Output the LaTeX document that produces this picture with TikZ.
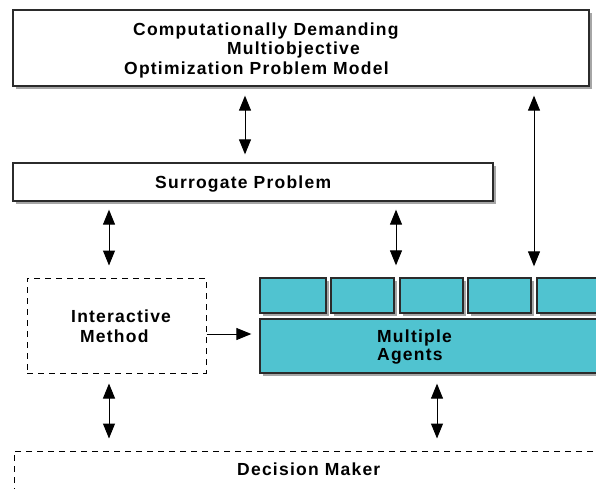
\documentclass[tikz,border=0pt]{standalone}
\usepackage{fontspec}
\setmainfont{Liberation Sans}[LetterSpace=7]
\usetikzlibrary{arrows.meta,shadows}
\definecolor{agent}{HTML}{50C3D0}
\definecolor{edgec}{HTML}{2B2B2B}
\begin{document}
\begin{tikzpicture}[x=1pt,y=-1pt,
  box/.style={draw=edgec,line width=1.3pt,fill=white,inner sep=0pt,
    drop shadow={shadow xshift=2.5pt,shadow yshift=-3pt,opacity=0.35,fill=black}},
  dbox/.style={draw=black,dash pattern=on 6pt off 5pt,line width=1pt,fill=white,inner sep=0pt},
  abox/.style={box,fill=agent},
  lbl/.style={font=\bfseries\fontsize{17.5}{19.5}\selectfont,inner sep=0pt,anchor=base west},
  arr/.style={line width=1pt,{Triangle[length=15pt,width=12pt]}-{Triangle[length=15pt,width=12pt]}},
  harr/.style={line width=1pt,-{Triangle[length=15pt,width=12pt]}},
]
\useasboundingbox (0,0) rectangle (596,488);
\clip (0,0) rectangle (596,488);
\fill[white] (0,0) rectangle (596,488);

% boxes
\node[box,minimum width=576pt,minimum height=76pt] (top) at (301,48) {};
\node[box,minimum width=480pt,minimum height=38pt] (sur) at (253,182) {};
\node[dbox,minimum width=179pt,minimum height=95pt] (inter) at (116.5,325.5) {};
\node[abox,minimum width=66pt,minimum height=35pt] (a1) at (293,295.5) {};
\node[abox,minimum width=63pt,minimum height=35pt] (a2) at (362.5,295.5) {};
\node[abox,minimum width=63pt,minimum height=35pt] (a3) at (431.5,295.5) {};
\node[abox,minimum width=63pt,minimum height=35pt] (a4) at (499.5,295.5) {};
\node[abox,minimum width=73pt,minimum height=35pt] (a5) at (573.5,295.5) {};
\node[abox,minimum width=360pt,minimum height=54pt] (agents) at (440,346) {};
\node[dbox,minimum width=606pt,minimum height=49pt] (dm) at (317,475.5) {};

% texts
\node[lbl] (t1) at (133,35) {Computationally Demanding};
\node[lbl] (t2) at (227,54.5) {Multiobjective};
\node[lbl] (t3) at (124,74) {Optimization Problem Model};
\node[lbl] (ts) at (155,188) {Surrogate Problem};
\node[lbl] (ti1) at (71,322) {Interactive};
\node[lbl] (ti2) at (80,342) {Method};
\node[lbl] (tm1) at (377,342) {Multiple};
\node[lbl] (tm2) at (377,360) {Agents};
\node[lbl] (td) at (237,475) {Decision Maker};

% arrow columns
\coordinate (c1) at (245,0);
\coordinate (c2) at (534,0);
\coordinate (c3) at (109,0);
\coordinate (c4) at (396,0);
\coordinate (c5) at (437,0);
\coordinate (r1) at (0,334);

\draw[arr,shorten <=9pt,shorten >=8pt] (top.south -| c1) -- (sur.north -| c1);
\draw[arr,shorten <=9pt,shorten >=11pt] (top.south -| c2) -- (a5.north -| c2);
\draw[arr,shorten <=8pt,shorten >=12pt] (sur.south -| c3) -- (inter.north -| c3);
\draw[arr,shorten <=8pt,shorten >=12pt] (sur.south -| c4) -- (a3.north -| c4);
\draw[arr,shorten <=10pt,shorten >=12pt] (inter.south -| c3) -- (dm.north -| c3);
\draw[arr,shorten <=10pt,shorten >=12pt] (agents.south -| c5) -- (dm.north -| c5);
\draw[harr,shorten >=8pt] (inter.east |- r1) -- (agents.west |- r1);
\end{tikzpicture}
\end{document}
